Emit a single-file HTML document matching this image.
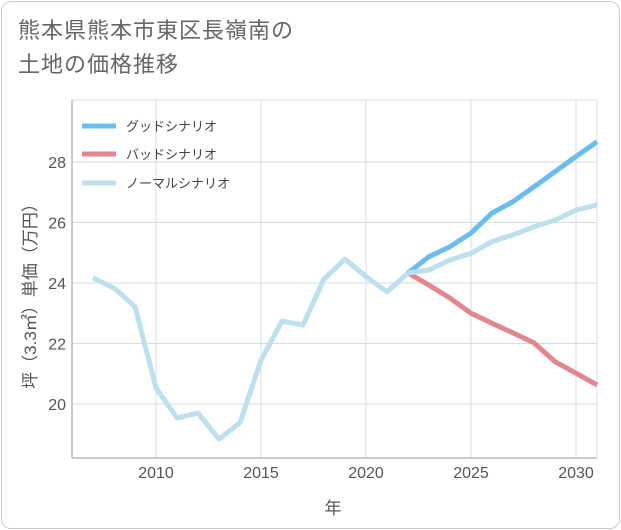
<!DOCTYPE html>
<html><head><meta charset="utf-8"><style>
body{margin:0;background:#fff;font-family:"Liberation Sans","Noto Sans CJK JP",sans-serif}
.card{position:absolute;left:1px;top:1px;width:617px;height:526px;border:1px solid #ccc;border-radius:10px;background:#fff}
.title{position:absolute;left:18px;top:14px;font-size:22px;line-height:34px;color:#666;letter-spacing:1px}
</style></head><body>
<div class="card"></div>
<div class="title">熊本県熊本市東区長嶺南の<br>土地の価格推移</div>
<svg id="c" width="621" height="530" style="position:absolute;left:0;top:0"></svg>
<script>
const years=[2007,2008,2009,2010,2011,2012,2013,2014,2015,2016,2017,2018,2019,2020,2021,2022];
const hist=[24.17,23.83,23.22,20.53,19.54,19.70,18.84,19.38,21.45,22.74,22.61,24.13,24.79,24.21,23.71,24.33];
const fyears=[2022,2023,2024,2025,2026,2027,2028,2029,2030,2031];
const good=[24.33,24.87,25.2,25.65,26.31,26.69,27.18,27.68,28.18,28.67];
const normal=[24.33,24.43,24.76,24.98,25.37,25.59,25.86,26.08,26.41,26.58];
const bad=[24.33,23.93,23.5,23.0,22.67,22.35,22.02,21.4,21.02,20.63];
const xTicks=[2010,2015,2020,2025,2030];
const yTicks=[20,22,24,26,28];
const NS="http://www.w3.org/2000/svg",svg=document.getElementById('c');
const X=y=>156+(y-2010)*21, Y=v=>404-(v-20)*30.25;
function mk(t,a,p){const e=document.createElementNS(NS,t);for(const k in a)e.setAttribute(k,a[k]);(p||svg).appendChild(e);return e;}
mk('rect',{x:72,y:100,width:525,height:358,fill:'none',stroke:'#ddd'});
xTicks.forEach(t=>{const l=mk('line',{x1:X(t),x2:X(t),y1:100,y2:458,stroke:'#d0dde6'});

const tx=mk('text',{x:X(t),y:478,'text-anchor':'middle','font-size':16,fill:'#555'});tx.textContent=t;
});
yTicks.forEach(t=>{const l=mk('line',{x1:72,x2:597,y1:Y(t),y2:Y(t),stroke:'#d0dde6'});

const tx=mk('text',{x:66,y:Y(t)+6,'text-anchor':'end','font-size':16,fill:'#555'});tx.textContent=t;
});
mk('line',{x1:72,x2:72,y1:100,y2:458,stroke:'#999'});
mk('line',{x1:72,x2:597,y1:458,y2:458,stroke:'#999'});
function line(xs,vs,c,n){const p=mk('polyline',{points:xs.map((x,i)=>X(x)+','+Y(vs[i])).join(' '),fill:'none',stroke:c,'stroke-width':5,'stroke-linejoin':'round'});
}
line(fyears,bad,'#e0878f','bad-scenario-line');
line(fyears,good,'#6bbdf0','good-scenario-line');
line(years,hist,'#bde0ec','historical-line');
line(fyears,normal,'#bde0ec','normal-scenario-line');
[['グッドシナリオ','#6bbdf0',126],['バッドシナリオ','#e0878f',154],['ノーマルシナリオ','#bde0ec',183]].forEach(([t,c,y])=>{
const l=mk('line',{x1:82,x2:116,y1:y,y2:y,stroke:c,'stroke-width':5});

const tx=mk('text',{x:126,y:y+5,'font-size':13,fill:'#444'});tx.textContent=t;
});
const xt=mk('text',{x:333,y:514,'text-anchor':'middle','font-size':17,fill:'#555'});xt.textContent='年';

const yt=mk('text',{x:0,y:0,'text-anchor':'middle','font-size':17,fill:'#555',transform:'translate(36,292) rotate(-90)'});yt.textContent='坪（3.3㎡）単価（万円）';

</script>
</body></html>
